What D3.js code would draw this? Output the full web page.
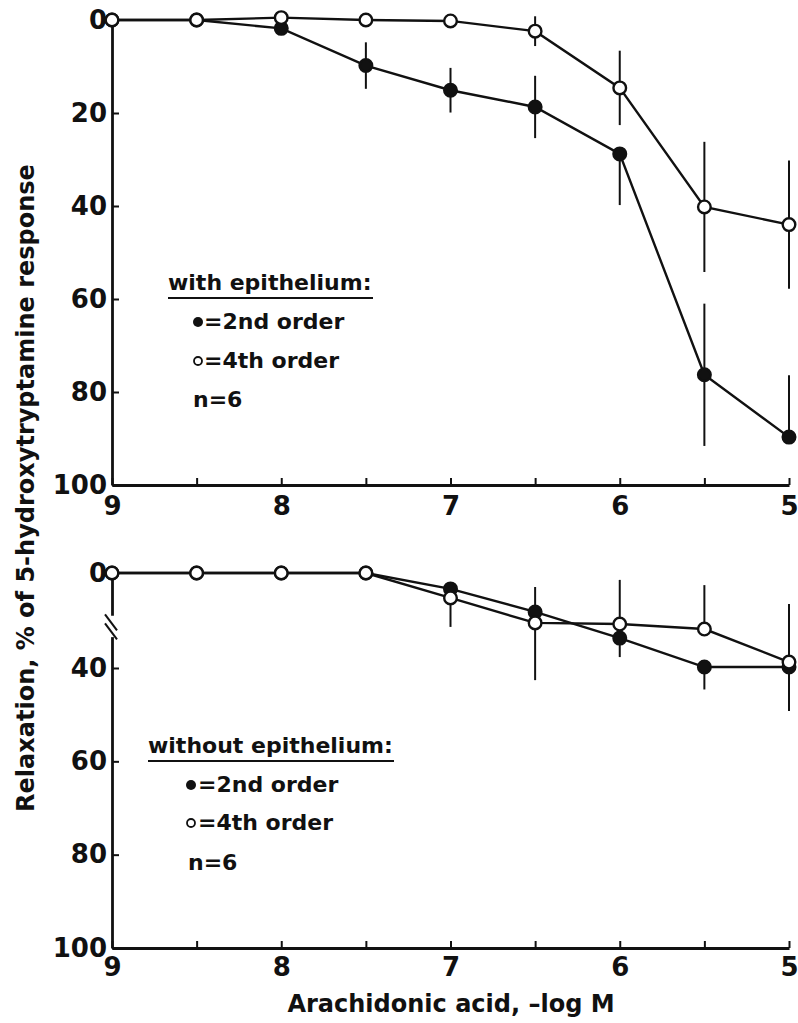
<!DOCTYPE html>
<html>
<head>
<meta charset="utf-8">
<script src="https://cdn.jsdelivr.net/npm/d3@7/dist/d3.min.js"></script>
<style>
  body { margin: 0; background: #fff; }
  svg text { font-family: "DejaVu Sans", sans-serif; font-weight: bold; fill: #111; }
</style>
</head>
<body>
<div id="chart"></div>
<script>
// Chart size
var width = 798;
var height = 1023;

// Arachidonic acid, -log M
var doses = [9, 8.5, 8, 7.5, 7, 6.5, 6, 5.5, 5];
var xTickLabels = [9, 8, 7, 6, 5];
var yTicksTop = [0, 20, 40, 60, 80, 100];
var yTicksBottom = [0, 40, 60, 80, 100];

// with epithelium (% relaxation), error bar length towards 0 (up) and towards 100 (down)
var withSecond      = [0, 0, 1.8, 9.8, 15.1, 18.7, 28.8, 76.3, 89.7];
var withSecondUp    = [0, 0, 0, 5, 4.8, 6.7, 0, 15.3, 13.3];
var withSecondDown  = [0, 0, 0, 5, 4.8, 6.7, 11, 15.3, 0];
var withFourth      = [0, 0, -0.5, 0, 0.2, 2.4, 14.6, 40.2, 44];
var withFourthUp    = [0, 0, 0, 0, 0, 3.2, 8, 14, 13.8];
var withFourthDown  = [0, 0, 0, 0, 0, 3.2, 8, 14, 13.8];

// without epithelium
var withoutSecond     = [0, 0, 0, 0, 6.7, 16.4, 27.4, 39.6, 39.6];
var withoutSecondUp   = [0, 0, 0, 0, 0, 10.5, 0, 0, 0];
var withoutSecondDown = [0, 0, 0, 0, 0, 0, 8, 5, 9.6];
var withoutFourth     = [0, 0, 0, 0, 10.5, 21, 21.5, 23.6, 37.5];
var withoutFourthUp   = [0, 0, 0, 0, 0, 0, 18.6, 18.5, 24.5];
var withoutFourthDown = [0, 0, 0, 0, 12.2, 21.6, 0, 0, 0];

// broken part of the lower y axis (in % units)
var breakFrom = 18;
var breakTo = 27;

var svg = d3.select("#chart")
    .append("svg")
    .attr("width", width)
    .attr("height", height);

// shared x scale
var xScale = d3.scaleLinear().domain([9, 5]).range([112, 789]);

// y scales: upper panel linear, lower panel squeezed between 0 and 40
var yTop = d3.scaleLinear().domain([0, 100]).range([20, 485]);
var yBottom = d3.scaleLinear().domain([0, 40, 100]).range([573, 668, 948]);

function rows(vals, up, down) {
    return doses.map(function(d, i) {
        return {x: d, y: vals[i], up: up[i], down: down[i]};
    });
}

function drawPanel(yScale, ticks, labelGap, series) {
    var g = svg.append("g");
    var y0 = yScale.range()[yScale.range().length - 1];

    // x axis, ticks pointing inward
    var xAxis = d3.axisBottom(xScale)
        .tickValues(doses)
        .tickSizeInner(-7)
        .tickSizeOuter(0)
        .tickPadding(labelGap)
        .tickFormat(function(d) { return xTickLabels.indexOf(d) >= 0 ? d : ""; });
    var gx = g.append("g")
        .attr("transform", "translate(0," + y0 + ")")
        .call(xAxis);

    // y axis
    var yAxis = d3.axisLeft(yScale)
        .tickValues(ticks)
        .tickSizeInner(-7)
        .tickSizeOuter(0)
        .tickPadding(5);
    var gy = g.append("g")
        .attr("transform", "translate(" + xScale(9) + ",0)")
        .call(yAxis);

    [gx, gy].forEach(function(a) {
        a.selectAll(".domain").attr("stroke", "#111").attr("stroke-width", 2.8);
        a.selectAll(".tick line").attr("stroke", "#111").attr("stroke-width", 2);
        a.selectAll(".tick text").attr("font-size", 26).attr("fill", "#111")
            .attr("font-family", "DejaVu Sans").attr("font-weight", "bold");
    });

    var line = d3.line()
        .x(function(d) { return xScale(d.x); })
        .y(function(d) { return yScale(d.y); });

    series.forEach(function(s) {
        g.append("path")
            .datum(s.data)
            .attr("fill", "none")
            .attr("stroke", "#111")
            .attr("stroke-width", 2.4)
            .attr("d", line);
    });

    // error bars
    series.forEach(function(s) {
        g.selectAll(null)
            .data(s.data.filter(function(d) { return d.up > 0 || d.down > 0; }))
            .enter()
            .append("line")
            .attr("x1", function(d) { return xScale(d.x); })
            .attr("x2", function(d) { return xScale(d.x); })
            .attr("y1", function(d) { return yScale(d.y - d.up); })
            .attr("y2", function(d) { return yScale(d.y + d.down); })
            .attr("stroke", "#111")
            .attr("stroke-width", 2);
    });

    // markers
    series.forEach(function(s) {
        g.selectAll(null)
            .data(s.data)
            .enter()
            .append("circle")
            .attr("cx", function(d) { return xScale(d.x); })
            .attr("cy", function(d) { return yScale(d.y); })
            .attr("r", 6.3)
            .attr("fill", s.filled ? "#111" : "#fff")
            .attr("stroke", "#111")
            .attr("stroke-width", 2.4);
    });
    return g;
}

drawPanel(yTop, yTicksTop, 12, [
    {data: rows(withSecond, withSecondUp, withSecondDown), filled: true},
    {data: rows(withFourth, withFourthUp, withFourthDown), filled: false}
]);

var lower = drawPanel(yBottom, yTicksBottom, 10, [
    {data: rows(withoutSecond, withoutSecondUp, withoutSecondDown), filled: true},
    {data: rows(withoutFourth, withoutFourthUp, withoutFourthDown), filled: false}
]);

// axis break on the lower y axis
var bx = xScale(9);
var b1 = yBottom(breakFrom), b2 = yBottom(breakTo);
lower.append("rect")
    .attr("x", bx - 3).attr("y", b1)
    .attr("width", 6).attr("height", b2 - b1)
    .attr("fill", "#fff");
[-4, 5].forEach(function(off) {
    var cy = (b1 + b2) / 2 + off;
    lower.append("line")
        .attr("x1", bx - 7).attr("y1", cy - 8)
        .attr("x2", bx + 5).attr("y2", cy + 8)
        .attr("stroke", "#111").attr("stroke-width", 2);
});

// legends
function legend(title, tx, ty, ulEnd, dotX, rowY, textX, nX) {
    var g = svg.append("g").attr("font-size", 22);
    g.append("text").attr("x", tx).attr("y", ty).text(title);
    g.append("line")
        .attr("x1", tx).attr("x2", ulEnd)
        .attr("y1", ty + 8).attr("y2", ty + 8)
        .attr("stroke", "#111").attr("stroke-width", 2);
    g.append("circle").attr("cx", dotX).attr("cy", rowY[0] - 7).attr("r", 5).attr("fill", "#111");
    g.append("text").attr("x", textX).attr("y", rowY[0]).text("=2nd order");
    g.append("circle").attr("cx", dotX).attr("cy", rowY[1] - 7).attr("r", 4)
        .attr("fill", "#fff").attr("stroke", "#111").attr("stroke-width", 1.8);
    g.append("text").attr("x", textX).attr("y", rowY[1]).text("=4th order");
    g.append("text").attr("x", nX).attr("y", rowY[2]).text("n=6");
}

legend("with epithelium:", 168, 290, 373, 198, [329, 368, 407], 204, 193);
legend("without epithelium:", 148, 753, 394, 191, [792, 830, 870], 198, 188);

// axis titles
svg.append("text")
    .attr("transform", "translate(34,488) rotate(-90)")
    .attr("text-anchor", "middle")
    .attr("font-size", 24)
    .text("Relaxation, % of 5-hydroxytryptamine response");

svg.append("text")
    .attr("x", 451)
    .attr("y", 1012)
    .attr("text-anchor", "middle")
    .attr("font-size", 24)
    .text("Arachidonic acid, \u2013log M");
</script>
</body>
</html>
